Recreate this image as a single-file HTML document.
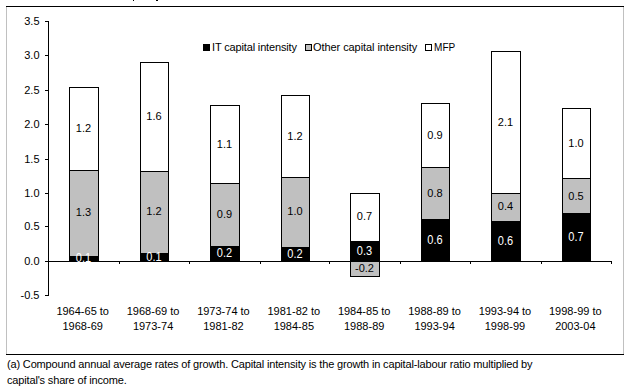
<!DOCTYPE html>
<html><head><meta charset="utf-8"><style>
html,body{margin:0;padding:0;background:#fff;width:630px;height:389px;overflow:hidden;position:relative}
.r{position:absolute;box-sizing:border-box}
.t{position:absolute;font-family:"Liberation Sans", sans-serif;line-height:11px;white-space:nowrap}
</style></head><body>
<div class="r" style="left:6px;top:6px;width:618px;height:1px;background:#000;"></div>
<div class="r" style="left:6px;top:7px;width:1px;height:347px;background:#c0c0c0;"></div>
<div class="r" style="left:623px;top:7px;width:1px;height:347px;background:#c0c0c0;"></div>
<div class="r" style="left:6px;top:354px;width:618px;height:1px;background:#000;"></div>
<div class="r" style="left:133px;top:0px;width:1px;height:1px;background:#000;"></div>
<div class="r" style="left:156px;top:0px;width:2px;height:1px;background:#000;"></div>
<div class="r" style="left:48px;top:21px;width:1px;height:275px;background:#000;"></div>
<div class="r" style="left:45px;top:21px;width:3px;height:1px;background:#000;"></div>
<div class="t" style="right:590.5px;top:16px;text-align:right;color:#000;font-size:11px;">3.5</div>
<div class="r" style="left:45px;top:55px;width:3px;height:1px;background:#000;"></div>
<div class="t" style="right:590.5px;top:50px;text-align:right;color:#000;font-size:11px;">3.0</div>
<div class="r" style="left:45px;top:90px;width:3px;height:1px;background:#000;"></div>
<div class="t" style="right:590.5px;top:85px;text-align:right;color:#000;font-size:11px;">2.5</div>
<div class="r" style="left:45px;top:124px;width:3px;height:1px;background:#000;"></div>
<div class="t" style="right:590.5px;top:119px;text-align:right;color:#000;font-size:11px;">2.0</div>
<div class="r" style="left:45px;top:159px;width:3px;height:1px;background:#000;"></div>
<div class="t" style="right:590.5px;top:154px;text-align:right;color:#000;font-size:11px;">1.5</div>
<div class="r" style="left:45px;top:193px;width:3px;height:1px;background:#000;"></div>
<div class="t" style="right:590.5px;top:188px;text-align:right;color:#000;font-size:11px;">1.0</div>
<div class="r" style="left:45px;top:226px;width:3px;height:1px;background:#000;"></div>
<div class="t" style="right:590.5px;top:221px;text-align:right;color:#000;font-size:11px;">0.5</div>
<div class="r" style="left:45px;top:261px;width:3px;height:1px;background:#000;"></div>
<div class="t" style="right:590.5px;top:256px;text-align:right;color:#000;font-size:11px;">0.0</div>
<div class="r" style="left:45px;top:295px;width:3px;height:1px;background:#000;"></div>
<div class="t" style="right:590.5px;top:290px;text-align:right;color:#000;font-size:11px;">-0.5</div>
<div class="r" style="left:69px;top:87px;width:30px;height:84px;background:#fff;border:1px solid #000;"></div>
<div class="r" style="left:69px;top:170px;width:30px;height:87px;background:#c0c0c0;border:1px solid #000;"></div>
<div class="r" style="left:69px;top:256px;width:30px;height:6px;background:#000;"></div>
<div class="r" style="left:140px;top:62px;width:29px;height:110px;background:#fff;border:1px solid #000;"></div>
<div class="r" style="left:140px;top:171px;width:29px;height:83px;background:#c0c0c0;border:1px solid #000;"></div>
<div class="r" style="left:140px;top:253px;width:29px;height:9px;background:#000;"></div>
<div class="r" style="left:210px;top:105px;width:30px;height:79px;background:#fff;border:1px solid #000;"></div>
<div class="r" style="left:210px;top:183px;width:30px;height:64px;background:#c0c0c0;border:1px solid #000;"></div>
<div class="r" style="left:210px;top:246px;width:30px;height:16px;background:#000;"></div>
<div class="r" style="left:281px;top:95px;width:29px;height:83px;background:#fff;border:1px solid #000;"></div>
<div class="r" style="left:281px;top:177px;width:29px;height:71px;background:#c0c0c0;border:1px solid #000;"></div>
<div class="r" style="left:281px;top:247px;width:29px;height:15px;background:#000;"></div>
<div class="r" style="left:350px;top:193px;width:30px;height:49px;background:#fff;border:1px solid #000;"></div>
<div class="r" style="left:350px;top:241px;width:30px;height:21px;background:#000;"></div>
<div class="r" style="left:350px;top:261px;width:30px;height:16px;background:#c0c0c0;border:1px solid #000;"></div>
<div class="r" style="left:421px;top:103px;width:29px;height:65px;background:#fff;border:1px solid #000;"></div>
<div class="r" style="left:421px;top:167px;width:29px;height:53px;background:#c0c0c0;border:1px solid #000;"></div>
<div class="r" style="left:421px;top:219px;width:29px;height:43px;background:#000;"></div>
<div class="r" style="left:491px;top:51px;width:30px;height:143px;background:#fff;border:1px solid #000;"></div>
<div class="r" style="left:491px;top:193px;width:30px;height:29px;background:#c0c0c0;border:1px solid #000;"></div>
<div class="r" style="left:491px;top:221px;width:30px;height:41px;background:#000;"></div>
<div class="r" style="left:562px;top:108px;width:29px;height:71px;background:#fff;border:1px solid #000;"></div>
<div class="r" style="left:562px;top:178px;width:29px;height:36px;background:#c0c0c0;border:1px solid #000;"></div>
<div class="r" style="left:562px;top:213px;width:29px;height:49px;background:#000;"></div>
<div class="r" style="left:45px;top:261px;width:567px;height:1px;background:#000;"></div>
<div class="r" style="left:119px;top:261px;width:1px;height:3px;background:#000;"></div>
<div class="r" style="left:189px;top:261px;width:1px;height:3px;background:#000;"></div>
<div class="r" style="left:260px;top:261px;width:1px;height:3px;background:#000;"></div>
<div class="r" style="left:329px;top:261px;width:1px;height:3px;background:#000;"></div>
<div class="r" style="left:400px;top:261px;width:1px;height:3px;background:#000;"></div>
<div class="r" style="left:470px;top:261px;width:1px;height:3px;background:#000;"></div>
<div class="r" style="left:541px;top:261px;width:1px;height:3px;background:#000;"></div>
<div class="r" style="left:611px;top:261px;width:1px;height:3px;background:#000;"></div>
<div class="t" style="left:-16.5px;width:200px;top:123px;text-align:center;color:#000;font-size:11px;">1.2</div>
<div class="t" style="left:-16.5px;width:200px;top:207px;text-align:center;color:#000;font-size:11px;">1.3</div>
<div class="t" style="left:-16.5px;width:200px;top:253px;text-align:center;color:#fff;font-size:11px;transform:scaleY(1.125);transform-origin:50% 9px;">0.1</div>
<div class="t" style="left:54.0px;width:200px;top:111px;text-align:center;color:#000;font-size:11px;">1.6</div>
<div class="t" style="left:54.0px;width:200px;top:206px;text-align:center;color:#000;font-size:11px;">1.2</div>
<div class="t" style="left:54.0px;width:200px;top:252px;text-align:center;color:#fff;font-size:11px;transform:scaleY(1.125);transform-origin:50% 9px;">0.1</div>
<div class="t" style="left:124.5px;width:200px;top:139px;text-align:center;color:#000;font-size:11px;">1.1</div>
<div class="t" style="left:124.5px;width:200px;top:209px;text-align:center;color:#000;font-size:11px;">0.9</div>
<div class="t" style="left:124.5px;width:200px;top:248px;text-align:center;color:#fff;font-size:11px;transform:scaleY(1.125);transform-origin:50% 9px;">0.2</div>
<div class="t" style="left:195.0px;width:200px;top:131px;text-align:center;color:#000;font-size:11px;">1.2</div>
<div class="t" style="left:195.0px;width:200px;top:206px;text-align:center;color:#000;font-size:11px;">1.0</div>
<div class="t" style="left:195.0px;width:200px;top:249px;text-align:center;color:#fff;font-size:11px;transform:scaleY(1.125);transform-origin:50% 9px;">0.2</div>
<div class="t" style="left:264.5px;width:200px;top:211px;text-align:center;color:#000;font-size:11px;">0.7</div>
<div class="t" style="left:264.5px;width:200px;top:263px;text-align:center;color:#000;font-size:11px;">-0.2</div>
<div class="t" style="left:264.5px;width:200px;top:246px;text-align:center;color:#fff;font-size:11px;transform:scaleY(1.125);transform-origin:50% 9px;">0.3</div>
<div class="t" style="left:335.0px;width:200px;top:130px;text-align:center;color:#000;font-size:11px;">0.9</div>
<div class="t" style="left:335.0px;width:200px;top:188px;text-align:center;color:#000;font-size:11px;">0.8</div>
<div class="t" style="left:335.0px;width:200px;top:235px;text-align:center;color:#fff;font-size:11px;transform:scaleY(1.125);transform-origin:50% 9px;">0.6</div>
<div class="t" style="left:405.5px;width:200px;top:117px;text-align:center;color:#000;font-size:11px;">2.1</div>
<div class="t" style="left:405.5px;width:200px;top:201px;text-align:center;color:#000;font-size:11px;">0.4</div>
<div class="t" style="left:405.5px;width:200px;top:236px;text-align:center;color:#fff;font-size:11px;transform:scaleY(1.125);transform-origin:50% 9px;">0.6</div>
<div class="t" style="left:476.0px;width:200px;top:138px;text-align:center;color:#000;font-size:11px;">1.0</div>
<div class="t" style="left:476.0px;width:200px;top:191px;text-align:center;color:#000;font-size:11px;">0.5</div>
<div class="t" style="left:476.0px;width:200px;top:232px;text-align:center;color:#fff;font-size:11px;transform:scaleY(1.125);transform-origin:50% 9px;">0.7</div>
<div class="t" style="left:-17.3125px;width:200px;top:306px;text-align:center;color:#000;font-size:11px;">1964-65 to</div>
<div class="t" style="left:-17.3125px;width:200px;top:321px;text-align:center;color:#000;font-size:11px;">1968-69</div>
<div class="t" style="left:53.0625px;width:200px;top:306px;text-align:center;color:#000;font-size:11px;">1968-69 to</div>
<div class="t" style="left:53.0625px;width:200px;top:321px;text-align:center;color:#000;font-size:11px;">1973-74</div>
<div class="t" style="left:123.4375px;width:200px;top:306px;text-align:center;color:#000;font-size:11px;">1973-74 to</div>
<div class="t" style="left:123.4375px;width:200px;top:321px;text-align:center;color:#000;font-size:11px;">1981-82</div>
<div class="t" style="left:193.8125px;width:200px;top:306px;text-align:center;color:#000;font-size:11px;">1981-82 to</div>
<div class="t" style="left:193.8125px;width:200px;top:321px;text-align:center;color:#000;font-size:11px;">1984-85</div>
<div class="t" style="left:264.1875px;width:200px;top:306px;text-align:center;color:#000;font-size:11px;">1984-85 to</div>
<div class="t" style="left:264.1875px;width:200px;top:321px;text-align:center;color:#000;font-size:11px;">1988-89</div>
<div class="t" style="left:334.5625px;width:200px;top:306px;text-align:center;color:#000;font-size:11px;">1988-89 to</div>
<div class="t" style="left:334.5625px;width:200px;top:321px;text-align:center;color:#000;font-size:11px;">1993-94</div>
<div class="t" style="left:404.9375px;width:200px;top:306px;text-align:center;color:#000;font-size:11px;">1993-94 to</div>
<div class="t" style="left:404.9375px;width:200px;top:321px;text-align:center;color:#000;font-size:11px;">1998-99</div>
<div class="t" style="left:475.3125px;width:200px;top:306px;text-align:center;color:#000;font-size:11px;">1998-99 to</div>
<div class="t" style="left:475.3125px;width:200px;top:321px;text-align:center;color:#000;font-size:11px;">2003-04</div>
<div class="r" style="left:203px;top:44px;width:7px;height:7px;background:#000;"></div>
<div class="t" style="left:212px;top:42px;color:#000;font-size:11px;letter-spacing:-0.15px;">IT capital intensity</div>
<div class="r" style="left:305px;top:44px;width:7px;height:7px;background:#c0c0c0;border:1px solid #000;"></div>
<div class="t" style="left:313px;top:42px;color:#000;font-size:11px;letter-spacing:-0.07px;">Other capital intensity</div>
<div class="r" style="left:425px;top:44px;width:7px;height:7px;background:#fff;border:1px solid #000;"></div>
<div class="t" style="left:434px;top:42px;color:#000;font-size:11px;transform:scaleX(0.91);transform-origin:1px 0;">MFP</div>
<div class="t" style="left:7px;top:359px;color:#000;font-size:11px;letter-spacing:-0.16px;">(a) Compound annual average rates of growth. Capital intensity is the growth in capital-labour ratio multiplied by</div>
<div class="t" style="left:7px;top:375px;color:#000;font-size:11px;letter-spacing:-0.16px;">capital's share of income.</div>
</body></html>
